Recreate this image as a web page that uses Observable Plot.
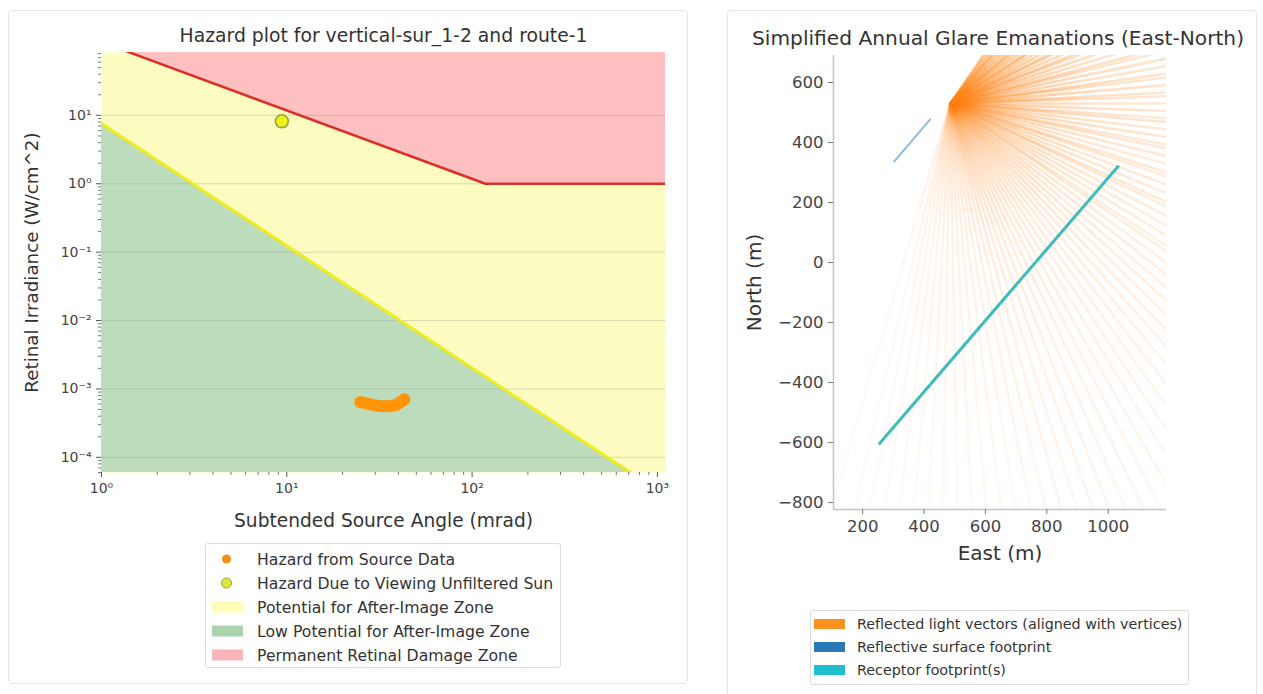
<!DOCTYPE html>
<html>
<head>
<meta charset="utf-8">
<script src="https://cdn.jsdelivr.net/npm/d3@7"></script>
<script src="https://cdn.jsdelivr.net/npm/@observablehq/plot@0.6"></script>
<style>
  html, body { margin: 0; padding: 0; background: #fff; }
  body { width: 1263px; height: 694px; position: relative; overflow: hidden; font-family: "DejaVu Sans", sans-serif; color: #333; }
  .panel { position: absolute; border: 1px solid #e4e4e4; border-radius: 4px; box-sizing: border-box; }
  .legend { position: absolute; border: 1px solid #dcdcdc; border-radius: 3px; background: rgba(255,255,255,0.9); box-sizing: border-box; }
  .legend .row { position: absolute; left: 0; right: 0; height: 20px; }
  .legend .mark { position: absolute; top: 50%; transform: translateY(-50%); }
  .legend .label { position: absolute; top: 50%; transform: translateY(-50%); white-space: nowrap; color: #333; }
</style>
</head>
<body>
<div class="panel" style="left:8px;top:10px;width:680px;height:674px"></div>
<div class="panel" style="left:727px;top:10px;width:530px;height:700px"></div>
<div id="left"></div>
<div id="right"></div>
<div id="legend-left" class="legend" style="left:205px;top:543px;width:356px;height:125px"></div>
<div id="legend-right" class="legend" style="left:810px;top:610px;width:379px;height:75px"></div>
<script>
// ---------- Hazard plot data (subtended angle in mrad, irradiance in W/cm^2) ----------
const hazardAngle      = [25, 26.5, 28, 29.5, 31, 32.5, 34, 35.5, 37, 38.5, 40, 41.5, 43];
const hazardIrradiance = [6.4e-4, 6.2e-4, 6.0e-4, 5.8e-4, 5.7e-4, 5.6e-4, 5.6e-4, 5.6e-4, 5.7e-4, 5.8e-4, 6.1e-4, 6.5e-4, 7.0e-4];
const sunAngle      = [9.4];
const sunIrradiance = [8.2];

// Retinal burn threshold (upper boundary) and after-image threshold (lower boundary)
const burnAngle      = [1, 118, 1106];
const burnIrradiance = [118, 1, 1];
const afterImageAngle      = [1, 1000];
const afterImageIrradiance = [7.6, 3.3e-5];

const angleDomain = [1, 1106];
const irradianceDomain = [6e-5, 83];
const angleTicks = [1, 10, 100, 1000];
const angleTickLabels = ["10⁰", "10¹", "10²", "10³"];
const irradianceTicks = [1e-4, 1e-3, 1e-2, 1e-1, 1, 10];
const irradianceTickLabels = ["10⁻⁴", "10⁻³", "10⁻²", "10⁻¹", "10⁰", "10¹"];

// ---------- Glare emanation data (metres, east / north) ----------
const rayOriginEast = 485;
const rayOriginNorth = 530;
const rayLength = 2200;
// bearing of each reflected vector, degrees clockwise from north
const rayBearing = [
  34, 36, 38, 40, 41, 43, 45, 47, 49, 50,
  52, 54, 56, 57, 59, 61, 63, 64, 66, 68,
  69, 71, 73, 75, 76, 78, 80, 82, 83, 85,
  87, 88, 90, 92, 94, 95, 97, 99, 101, 102,
  104, 106, 108, 109, 111, 113, 115, 116, 118, 120,
  122, 124, 125, 127, 129, 131, 133, 135, 137, 139,
  141, 143, 145, 147, 149, 151, 153, 155, 157, 159,
  161, 163, 165, 167, 169, 171, 173, 175, 177, 179,
  181, 183, 185, 187, 189, 191, 193, 196
];
const rayOpacity = [
  0.5, 0.45, 0.5, 0.45, 0.5, 0.45, 0.5, 0.45, 0.5, 0.45,
  0.5, 0.45, 0.5, 0.5, 0.45, 0.5, 0.45, 0.5, 0.45, 0.5,
  0.45, 0.5, 0.45, 0.5, 0.45, 0.5, 0.45, 0.5, 0.45, 0.5,
  0.45, 0.45, 0.4, 0.45, 0.4, 0.45, 0.4, 0.45, 0.4, 0.4,
  0.4, 0.35, 0.4, 0.35, 0.4, 0.35, 0.4, 0.35, 0.35, 0.35,
  0.35, 0.3, 0.35, 0.3, 0.35, 0.3, 0.35, 0.3, 0.35, 0.3,
  0.3, 0.3, 0.28, 0.3, 0.28, 0.3, 0.28, 0.3, 0.28, 0.3,
  0.3, 0.28, 0.3, 0.25, 0.25, 0.22, 0.22, 0.2, 0.2, 0.2,
  0.18, 0.18, 0.16, 0.16, 0.15, 0.14, 0.13, 0.12
];
const surfaceEast  = [303, 420];
const surfaceNorth = [337, 477];
const receptorEast  = [255, 1032];
const receptorNorth = [-603, 320];

const eastDomain = [105, 1190];
const northDomain = [-823, 690];
const eastTicks = [200, 400, 600, 800, 1000];
const northTicks = [-800, -600, -400, -200, 0, 200, 400, 600];

// ---------- colours ----------
const yellowZone = "#fdfcc0";
const greenZone = "#bcdcbc";
const redZone = "#fdbfbf";
const rayColor = "#ff7f0e";

// ---------- tables ----------
const hazard = hazardAngle.map((a, i) => ({angle: a, E: hazardIrradiance[i]}));
const sun = sunAngle.map((a, i) => ({angle: a, E: sunIrradiance[i]}));
const burn = burnAngle.map((a, i) => ({angle: a, E: burnIrradiance[i]}));
const afterImage = afterImageAngle.map((a, i) => ({angle: a, E: afterImageIrradiance[i]}));

const angleLabel = new Map(angleTicks.map((t, i) => [t, angleTickLabels[i]]));
const irrLabel = new Map(irradianceTicks.map((t, i) => [t, irradianceTickLabels[i]]));
const angleMinor = d3.scaleLog().domain(angleDomain).ticks().filter(t => !angleTicks.includes(t));
const irrMinor = d3.scaleLog().domain(irradianceDomain).ticks().filter(t => !irradianceTicks.some(m => Math.abs(m - t) / t < 1e-9));

const hazardPlot = Plot.plot({
  width: 690, height: 540,
  marginLeft: 101, marginRight: 25, marginTop: 52, marginBottom: 68,
  style: {fontFamily: "DejaVu Sans", background: "transparent", overflow: "visible"},
  x: {type: "log", domain: angleDomain},
  y: {type: "log", domain: irradianceDomain},
  marks: [
    Plot.frame({fill: yellowZone, stroke: null}),
    Plot.areaY(afterImage, {x: "angle", y1: 1e-7, y2: "E", fill: greenZone, clip: true}),
    Plot.areaY(burn, {x: "angle", y1: "E", y2: 1e4, fill: redZone, clip: true}),
    Plot.ruleY(irradianceTicks, {stroke: "#8a8a8a", strokeOpacity: 0.3}),
    Plot.line(afterImage, {x: "angle", y: "E", stroke: "#eeee1c", strokeWidth: 3, clip: true}),
    Plot.line(burn, {x: "angle", y: "E", stroke: "#d9302a", strokeWidth: 2.5, clip: true}),
    Plot.dot(hazard, {x: "angle", y: "E", r: 6.2, fill: "#ff9408", stroke: null}),
    Plot.dot(sun, {x: "angle", y: "E", r: 6.5, fill: "#eef21a", stroke: "#8ea53a", strokeWidth: 1.5}),
    Plot.axisX({ticks: angleTicks, tickFormat: d => angleLabel.get(d), tickSize: 5, tickPadding: 6,
                fontSize: 14, stroke: "#555", fill: "#444", label: null}),
    Plot.axisX({ticks: angleMinor, tickFormat: () => "", tickSize: 3, stroke: "#777", label: null}),
    Plot.axisY({ticks: irradianceTicks, tickFormat: d => irrLabel.get(d), tickSize: 5, tickPadding: 5,
                fontSize: 14, stroke: "#555", fill: "#444", label: null}),
    Plot.axisY({ticks: irrMinor, tickFormat: () => "", tickSize: 3, stroke: "#777", label: null}),
    Plot.text(["Hazard plot for vertical-sur_1-2 and route-1"], {text: d => d, frameAnchor: "top", dy: -17,
              lineAnchor: "middle", textAnchor: "middle", fontSize: 18.8, fill: "#333"}),
    Plot.text(["Subtended Source Angle (mrad)"], {text: d => d, frameAnchor: "bottom", dy: 49,
              lineAnchor: "middle", textAnchor: "middle", fontSize: 18.6, fill: "#333"}),
    Plot.text(["Retinal Irradiance (W/cm^2)"], {text: d => d, frameAnchor: "left", dx: -69, rotate: -90,
              lineAnchor: "middle", textAnchor: "middle", fontSize: 18.3, fill: "#333"})
  ]
});
hazardPlot.style.position = "absolute";
hazardPlot.style.left = "0px";
hazardPlot.style.top = "0px";
document.getElementById("left").appendChild(hazardPlot);

// ---------- glare emanations ----------
const toRad = Math.PI / 180;
const rays = rayBearing.map((b, i) => ({
  x1: rayOriginEast, y1: rayOriginNorth,
  x2: rayOriginEast + rayLength * Math.sin(b * toRad),
  y2: rayOriginNorth + rayLength * Math.cos(b * toRad),
  o: rayOpacity[i]
}));
const surface = surfaceEast.map((e, i) => ({east: e, north: surfaceNorth[i]}));
const receptor = receptorEast.map((e, i) => ({east: e, north: receptorNorth[i]}));

const glarePlot = Plot.plot({
  width: 530, height: 600,
  marginLeft: 106, marginRight: 91, marginTop: 55, marginBottom: 91,
  style: {fontFamily: "DejaVu Sans", background: "transparent", overflow: "visible"},
  x: {domain: eastDomain},
  y: {domain: northDomain},
  marks: [
    Plot.link(rays, {x1: "x1", y1: "y1", x2: "x2", y2: "y2", stroke: "url(#ray-fade)", strokeOpacity: "o",
                     strokeWidth: 2.5, clip: true}),
    Plot.line(surface, {x: "east", y: "north", stroke: "#1f77b4", strokeOpacity: 0.5, strokeWidth: 2}),
    Plot.line(receptor, {x: "east", y: "north", stroke: "#3dbdba", strokeWidth: 3}),
    Plot.ruleX([eastDomain[0]], {stroke: "#c4c4c4", strokeWidth: 1.5}),
    Plot.ruleY([northDomain[0]], {stroke: "#c4c4c4", strokeWidth: 1.5}),
    Plot.axisX({ticks: eastTicks, tickFormat: d3.format("d"), tickSize: 5, tickPadding: 6,
                fontSize: 16.5, stroke: "#777", fill: "#444", label: null}),
    Plot.axisY({ticks: northTicks, tickFormat: d3.format("d"), tickSize: 5, tickPadding: 5,
                fontSize: 16.5, stroke: "#777", fill: "#444", label: null}),
    Plot.text(["Simplified Annual Glare Emanations (East-North)"], {text: d => d, frameAnchor: "top", dy: -17,
              dx: -2, lineAnchor: "middle", textAnchor: "middle", fontSize: 20.2, fill: "#333"}),
    Plot.text(["East (m)"], {text: d => d, frameAnchor: "bottom", dy: 44,
              lineAnchor: "middle", textAnchor: "middle", fontSize: 20, fill: "#333"}),
    Plot.text(["North (m)"], {text: d => d, frameAnchor: "left", dx: -79, rotate: -90,
              lineAnchor: "middle", textAnchor: "middle", fontSize: 20, fill: "#333"})
  ]
});

// Radial fade: vectors are brightest where they leave the reflecting surface
{
  const cx = glarePlot.scale("x").apply(rayOriginEast);
  const cy = glarePlot.scale("y").apply(rayOriginNorth);
  const ns = "http://www.w3.org/2000/svg";
  const defs = document.createElementNS(ns, "defs");
  const grad = document.createElementNS(ns, "radialGradient");
  grad.setAttribute("id", "ray-fade");
  grad.setAttribute("gradientUnits", "userSpaceOnUse");
  grad.setAttribute("cx", cx);
  grad.setAttribute("cy", cy);
  grad.setAttribute("r", 600);
  [[0, 1], [0.06, 0.95], [0.25, 0.5], [0.55, 0.3], [1, 0.2]].forEach(([o, a]) => {
    const s = document.createElementNS(ns, "stop");
    s.setAttribute("offset", o);
    s.setAttribute("stop-color", rayColor);
    s.setAttribute("stop-opacity", a);
    grad.appendChild(s);
  });
  defs.appendChild(grad);
  glarePlot.insertBefore(defs, glarePlot.firstChild);
}
glarePlot.style.position = "absolute";
glarePlot.style.left = "727px";
glarePlot.style.top = "0px";
document.getElementById("right").appendChild(glarePlot);

// ---------- legends ----------
function buildLegend(el, items, opts) {
  items.forEach((it, i) => {
    const row = document.createElement("div");
    row.className = "row";
    row.style.top = (opts.first + i * opts.step - 10) + "px";
    const m = document.createElement("div");
    m.className = "mark";
    if (it.kind === "dot") {
      m.style.left = (opts.markCenter - it.r) + "px";
      m.style.width = m.style.height = (2 * it.r) + "px";
      m.style.borderRadius = "50%";
      m.style.background = it.color;
      if (it.stroke) { m.style.boxSizing = "border-box"; m.style.border = "1.5px solid " + it.stroke; }
    } else {
      m.style.left = opts.patchLeft + "px";
      m.style.width = opts.patchWidth + "px";
      m.style.height = opts.patchHeight + "px";
      m.style.background = it.color;
    }
    const t = document.createElement("div");
    t.className = "label";
    t.style.left = opts.textLeft + "px";
    t.style.fontSize = opts.fontSize + "px";
    t.textContent = it.label;
    row.appendChild(m);
    row.appendChild(t);
    el.appendChild(row);
  });
}

buildLegend(document.getElementById("legend-left"), [
  {kind: "dot", r: 4.5, color: "#f39019", label: "Hazard from Source Data"},
  {kind: "dot", r: 5.5, color: "#dde83a", stroke: "#8fa43a", label: "Hazard Due to Viewing Unfiltered Sun"},
  {kind: "patch", color: "#fdfcb8", label: "Potential for After-Image Zone"},
  {kind: "patch", color: "#abd3ab", label: "Low Potential for After-Image Zone"},
  {kind: "patch", color: "#f9b5b7", label: "Permanent Retinal Damage Zone"}
], {first: 14.5, step: 24, markCenter: 20, patchLeft: 6, patchWidth: 31, patchHeight: 11, textLeft: 51, fontSize: 15.7});

buildLegend(document.getElementById("legend-right"), [
  {kind: "patch", color: "#f7921e", label: "Reflected light vectors (aligned with vertices)"},
  {kind: "patch", color: "#2a78b8", label: "Reflective surface footprint"},
  {kind: "patch", color: "#1fbfcf", label: "Receptor footprint(s)"}
], {first: 13, step: 23, markCenter: 18, patchLeft: 3, patchWidth: 31, patchHeight: 10, textLeft: 46, fontSize: 14.3});
</script>
</body>
</html>
